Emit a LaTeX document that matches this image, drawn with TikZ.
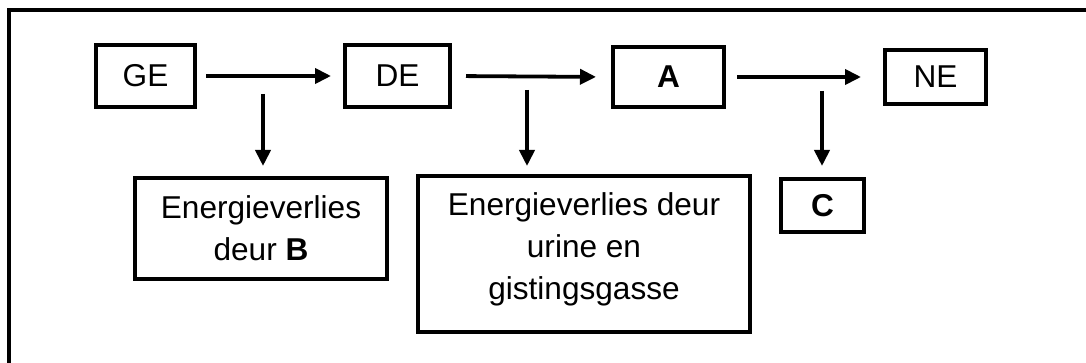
\documentclass[tikz,border=0pt]{standalone}
\usepackage{fontspec}
\setmainfont{Liberation Sans}
\usetikzlibrary{arrows.meta}
\begin{document}
\begin{tikzpicture}[x=1pt,y=-1pt,
  box/.style={draw,line width=4pt,inner sep=0pt,align=center,font=\fontsize{31.6}{42}\selectfont},
  arr/.style={line width=3.8pt,-{Triangle[length=16pt,width=15pt]}}]
\useasboundingbox (0,0) rectangle (1086,363);
\draw[line width=4pt] (9,363) -- (9,10) -- (1086,10);
\node[box,minimum width=99pt,minimum height=62pt] (GE) at (145.5,76) {GE};
\node[box,minimum width=105pt,minimum height=62pt] (DE) at (397.5,76) {DE};
\node[box,minimum width=111pt,minimum height=60pt] (A) at (668.5,77) {\bfseries A};
\node[box,minimum width=101pt,minimum height=54pt] (NE) at (935.5,77) {NE};
\node[box,minimum width=252pt,minimum height=101pt] (B) at (261,228.5) {Energieverlies\\deur \textbf{B}};
\node[box,minimum width=332pt,minimum height=156pt] (U) at (584,254) {Energieverlies deur\\urine en\\gistingsgasse\rule[-15pt]{0pt}{0pt}};
\node[box,minimum width=83pt,minimum height=53pt] (C) at (822.5,205.5) {\bfseries C};
\draw[arr,shorten <=9pt,shorten >=12pt] (GE.east) -- (DE.west);
\draw[arr,shorten <=14pt,shorten >=15pt] (DE.east) -- (A.west);
\draw[arr,shorten <=11pt,shorten >=22pt] (A.east) -- (NE.west);
\coordinate (v1) at (263,94);
\coordinate (v2) at (527,90);
\coordinate (v3) at (822,91);
\draw[arr,shorten >=10pt] (v1) -- (v1 |- B.north);
\draw[arr,shorten >=8pt] (v2) -- (v2 |- U.north);
\draw[arr,shorten >=11pt] (v3) -- (v3 |- C.north);
\end{tikzpicture}
\end{document}
